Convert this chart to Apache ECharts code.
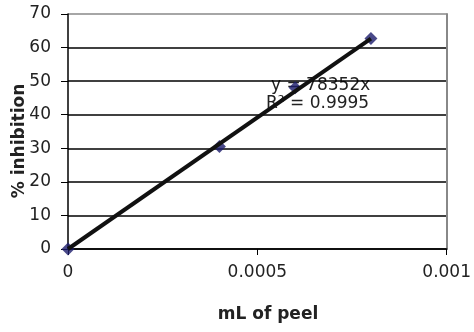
<!DOCTYPE html>
<html>
<head>
<meta charset="UTF-8">
<script src="https://cdn.jsdelivr.net/npm/echarts/dist/echarts.min.js"></script>
<style>
  body { margin: 0; background: #fff; }
  #chart { width: 474px; height: 332px; }
</style>
</head>
<body>
<div id="chart"></div>
<script>
// measured points
const peelMl = [0, 0.0004, 0.0006, 0.0008];
const inhibition = [0, 30.5, 48, 62.7];
// linear trendline through origin, y = 78352x
const trendX = [0, 0.0008];
const trendY = [0, 62.68];
const xTicks = ['0', '0.0005', '0.001'];
const eqText = 'y = 78352x';
const r2Text = 'R² = 0.9995';

const font = 'DejaVu Sans';
const chart = echarts.init(document.getElementById('chart'));

chart.setOption({
  animation: false,
  grid: { left: 68, right: 26, top: 14, bottom: 83 },
  xAxis: {
    type: 'value', min: 0, max: 0.001, interval: 0.0005,
    axisLine: { lineStyle: { color: '#000', width: 1.5 } },
    axisTick: { show: true, length: 6, lineStyle: { color: '#000' } },
    splitLine: { show: false },
    axisLabel: {
      margin: 15, color: '#222', fontFamily: font, fontSize: 17,
      formatter: (v, i) => xTicks[i]
    }
  },
  yAxis: [{
    type: 'value', min: 0, max: 70, interval: 10,
    axisLine: { show: true, lineStyle: { color: '#000', width: 1.5 } },
    axisTick: { show: true, length: 7, lineStyle: { color: '#000' } },
    splitLine: { lineStyle: { color: ['#000', '#000', '#000', '#000', '#000', '#000', '#000', '#888'], width: 1.5 } },
    axisLabel: { margin: 17, color: '#222', fontFamily: font, fontSize: 17 }
  }, {
    type: 'value', min: 0, max: 70, position: 'right',
    axisLine: { show: true, lineStyle: { color: '#888', width: 2 } },
    axisTick: { show: false }, axisLabel: { show: false }, splitLine: { show: false }
  }],
  series: [{
    type: 'line',
    data: trendX.map((x, i) => [x, trendY[i]]),
    symbol: 'none',
    lineStyle: { color: '#111', width: 4 },
    z: 3
  }, {
    type: 'scatter',
    data: peelMl.map((x, i) => [x, inhibition[i]]),
    symbol: 'diamond',
    symbolSize: 13,
    itemStyle: { color: '#1c1c6c' },
    z: 2
  }],
  graphic: [
    { type: 'text', left: 271, top: 77, style: { text: eqText, font: '17px "DejaVu Sans"', fill: '#222' } },
    { type: 'text', left: 266, top: 95, style: { text: r2Text, font: '17px "DejaVu Sans"', fill: '#222' } },
    { type: 'text', x: 268, y: 315, style: { text: 'mL of peel', font: 'bold 17px "DejaVu Sans"', fill: '#222', align: 'center', verticalAlign: 'middle' } },
    { type: 'text', x: 20, y: 141, rotation: Math.PI / 2, style: { text: '% inhibition', font: 'bold 17px "DejaVu Sans"', fill: '#222', align: 'center', verticalAlign: 'middle' } }
  ]
});
</script>
</body>
</html>
